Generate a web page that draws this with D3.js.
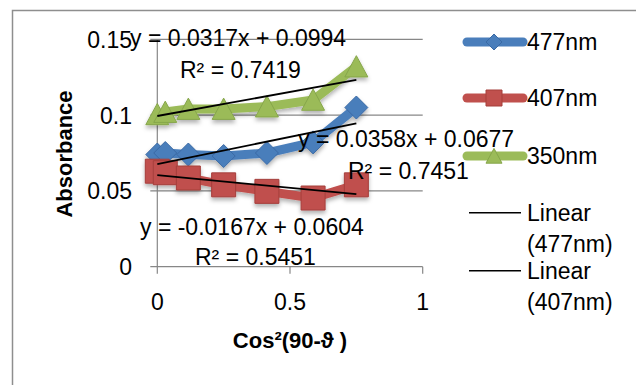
<!DOCTYPE html>
<html>
<head>
<meta charset="utf-8">
<script src="https://cdn.jsdelivr.net/npm/d3@7"></script>
<style>
  body { margin: 0; background: #fff; }
  text { font-family: "Liberation Sans", "Open Sans", sans-serif; fill: #000; }
</style>
</head>
<body>
<div id="chart"></div>
<script>
// valores
var xVals = [0, 0.030, 0.117, 0.25, 0.413, 0.587, 0.75];
var abs477 = [0.074, 0.075, 0.074, 0.073, 0.075, 0.082, 0.105];
var abs407 = [0.063, 0.062, 0.0585, 0.054, 0.0497, 0.0453, 0.054];
var abs350 = [0.1005, 0.102, 0.104, 0.104, 0.1056, 0.110, 0.132];
var seriesNames = ["477nm", "407nm", "350nm"];
var slopes = [0.0358, -0.0167, 0.0317];
var intercepts = [0.0677, 0.0604, 0.0994];
var r2 = ["0.7451", "0.5451", "0.7419"];
var yTicks = [0, 0.05, 0.1, 0.15];
var yTickLabels = ["0", "0.05", "0.1", "0.15"];
var xTicks = [0, 0.5, 1];
var xTickLabels = ["0", "0.5", "1"];

var W = 636, H = 385;
var svg = d3.select("#chart").append("svg")
    .attr("width", W).attr("height", H);

// sombra das linhas
var defs = svg.append("defs");
var f = defs.append("filter").attr("id", "sh")
    .attr("x", "-20%").attr("y", "-20%").attr("width", "140%").attr("height", "160%");
f.append("feDropShadow").attr("dx", 0).attr("dy", 3).attr("stdDeviation", 2)
    .attr("flood-color", "#000").attr("flood-opacity", 0.3);

// borda do gráfico
svg.append("rect").attr("x", 12.5).attr("y", 10.5)
    .attr("width", 640).attr("height", 400)
    .attr("fill", "none").attr("stroke", "#8e8e8e").attr("stroke-width", 1.5);

var x = d3.scaleLinear().domain([0, 1]).range([157.3, 422.7]);
var y = d3.scaleLinear().domain([0, 0.15]).range([266.7, 39.3]);

// grades horizontais
svg.append("g").selectAll("line").data(yTicks).join("line")
    .attr("x1", x(0) - 7).attr("x2", x(1))
    .attr("y1", d => y(d)).attr("y2", d => y(d))
    .attr("stroke", "#878787").attr("stroke-width", 1.2);

// eixo vertical
svg.append("line").attr("x1", x(0)).attr("x2", x(0))
    .attr("y1", y(0.15)).attr("y2", y(0))
    .attr("stroke", "#878787").attr("stroke-width", 1.2);

// marcas do eixo x
svg.append("g").selectAll("line").data(xTicks).join("line")
    .attr("x1", d => x(d)).attr("x2", d => x(d))
    .attr("y1", y(0)).attr("y2", y(0) + 7)
    .attr("stroke", "#878787").attr("stroke-width", 1.2);

svg.append("g").selectAll("text").data(yTicks).join("text")
    .attr("x", 132).attr("y", d => y(d) + 8.5)
    .attr("text-anchor", "end").attr("font-size", 23)
    .text((d, i) => yTickLabels[i]);

svg.append("g").selectAll("text").data(xTicks).join("text")
    .attr("x", d => x(d)).attr("y", 310)
    .attr("text-anchor", "middle").attr("font-size", 23)
    .text((d, i) => xTickLabels[i]);

// títulos dos eixos
svg.append("text").attr("transform", "translate(72,154) rotate(-90)")
    .attr("text-anchor", "middle").attr("font-size", 22).attr("font-weight", "bold")
    .text("Absorbance");
svg.append("text").attr("x", 290).attr("y", 348)
    .attr("text-anchor", "middle").attr("font-size", 22).attr("font-weight", "bold")
    .text("Cos²(90-ϑ )");

var colors = ["#4a7ebb", "#c0504d", "#9bbb59"];
var darks = ["#3a6aa5", "#a53e3b", "#86a64a"];
var allSeries = [abs477, abs407, abs350];

function markerPath(k, s) {
    if (k === 0) return "M0," + (-s) + "L" + s + ",0L0," + s + "L" + (-s) + ",0Z";
    if (k === 1) return "M" + (-s) + "," + (-s) + "H" + s + "V" + s + "H" + (-s) + "Z";
    return "M0," + (-s * 0.95) + "L" + s + "," + (s * 0.9) + "L" + (-s) + "," + (s * 0.9) + "Z";
}

var line = d3.line().x(d => x(d[0])).y(d => y(d[1]));

allSeries.forEach(function (vals, k) {
    var pts = xVals.map((xv, i) => [xv, vals[i]]);
    var g = svg.append("g").attr("filter", "url(#sh)");
    g.append("path").attr("d", line(pts))
        .attr("fill", "none").attr("stroke", colors[k]).attr("stroke-width", 9)
        .attr("stroke-linejoin", "round").attr("stroke-linecap", "round");
    g.selectAll("path.m").data(pts).join("path").attr("class", "m")
        .attr("transform", d => "translate(" + x(d[0]) + "," + y(d[1]) + ")")
        .attr("d", markerPath(k, k === 1 ? 12 : 11.5))
        .attr("fill", colors[k]).attr("stroke", darks[k]).attr("stroke-width", 1);
});

// linhas de tendência
slopes.forEach(function (m, k) {
    svg.append("line")
        .attr("x1", x(0)).attr("y1", y(intercepts[k]))
        .attr("x2", x(0.75)).attr("y2", y(intercepts[k] + m * 0.75))
        .attr("stroke", "#000").attr("stroke-width", 1.8);
});

function eqText(k) {
    var m = slopes[k], b = intercepts[k];
    return "y = " + m.toFixed(4) + "x + " + b.toFixed(4);
}
// posições dos rótulos das equações
var eqPos = [[298, 146.5], [140, 235], [130, 45.5]];
var r2Pos = [[348, 179], [195, 265], [180, 77.5]];
[0, 1, 2].forEach(function (k) {
    svg.append("text").attr("x", eqPos[k][0]).attr("y", eqPos[k][1])
        .attr("font-size", 23).text(eqText(k));
    svg.append("text").attr("x", r2Pos[k][0]).attr("y", r2Pos[k][1])
        .attr("font-size", 23).text("R² = " + r2[k]);
});

// legenda
var legY = [42, 98, 156];
seriesNames.forEach(function (name, k) {
    var g = svg.append("g");
    g.append("line").attr("x1", 467).attr("x2", 523)
        .attr("y1", legY[k]).attr("y2", legY[k])
        .attr("stroke", colors[k]).attr("stroke-width", 9).attr("stroke-linecap", "round");
    g.append("path").attr("transform", "translate(494," + legY[k] + ")")
        .attr("d", markerPath(k, 8))
        .attr("fill", colors[k]).attr("stroke", darks[k]).attr("stroke-width", 1);
    g.append("text").attr("x", 527).attr("y", legY[k] + 7.5)
        .attr("font-size", 23).text(name);
});
var linY = [212.7, 270.7];
["477nm", "407nm"].forEach(function (name, k) {
    svg.append("line").attr("x1", 469).attr("x2", 521)
        .attr("y1", linY[k]).attr("y2", linY[k])
        .attr("stroke", "#000").attr("stroke-width", 1.5);
    svg.append("text").attr("x", 527).attr("y", linY[k] + 8.5)
        .attr("font-size", 23).text("Linear");
    svg.append("text").attr("x", 527).attr("y", linY[k] + 39.5)
        .attr("font-size", 23).text("(" + name + ")");
});
</script>
</body>
</html>
